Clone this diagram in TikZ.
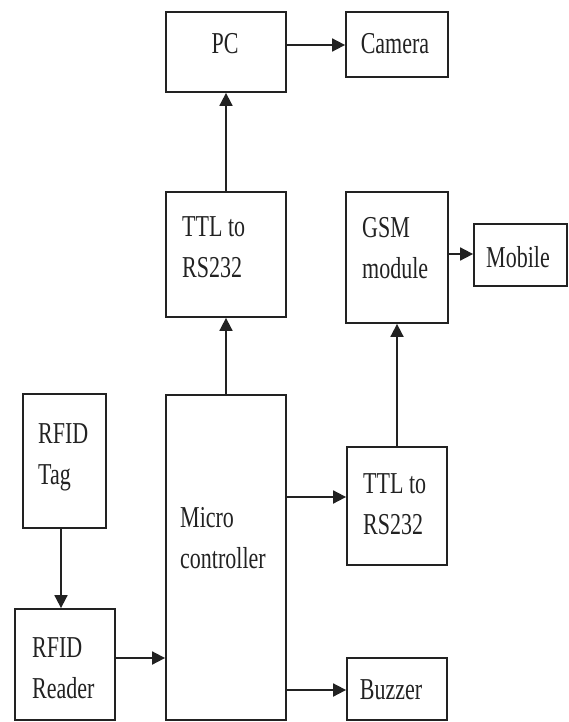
\documentclass[tikz,border=0pt]{standalone}
\usepackage{fontspec}
\setmainfont{Liberation Serif}
\usetikzlibrary{arrows.meta}
\definecolor{ink}{HTML}{222222}
% tall, narrow block lettering
\newcommand\blocktext[1]{\scalebox{1}[1.38]{\begin{tabular}{@{}l@{}}#1\end{tabular}}}

\begin{document}
\begin{tikzpicture}[x=1pt,y=-1pt,
  box/.style={draw=ink, line width=1.8pt, inner sep=0pt, rectangle},
  txt/.style={inner sep=0pt, font=\fontsize{22}{30}\selectfont, text=ink},
  arr/.style={draw=ink, line width=1.8pt, -{Triangle[length=13pt,width=13pt]}}]
\useasboundingbox (0,0) rectangle (569,722);

% blocks
\node[box, minimum width=120pt, minimum height=80pt]  (pc)     at (226,52)    {};
\node[box, minimum width=102pt, minimum height=65pt]  (camera) at (397,44.5)  {};
\node[box, minimum width=120pt, minimum height=125pt] (ttl1)   at (226,254.5) {};
\node[box, minimum width=102pt, minimum height=131pt] (gsm)    at (397,257.5) {};
\node[box, minimum width=93pt,  minimum height=62pt]  (mobile) at (520.5,255) {};
\node[box, minimum width=83pt,  minimum height=134pt] (tag)    at (64.5,461)  {};
\node[box, minimum width=120pt, minimum height=325pt] (micro)  at (226,557.5) {};
\node[box, minimum width=100pt, minimum height=118pt] (ttl2)   at (397,506)   {};
\node[box, minimum width=100pt, minimum height=111pt] (reader) at (65,664.5)  {};
\node[box, minimum width=100pt, minimum height=62pt]  (buzzer) at (397,689)   {};

% block captions
\node[txt] (pct)     at (225,45)  {\blocktext{PC}};
\node[txt] (camerat) at (395,45)  {\blocktext{Camera}};
\node[txt] (mobilet) at (518,259) {\blocktext{Mobile}};
\node[txt] (buzzert) at (391,691) {\blocktext{Buzzer}};
\node[txt, anchor=west] (ttl1t)   at (182,249) {\blocktext{TTL to\\RS232}};
\node[txt, anchor=west] (gsmt)    at (362,250) {\blocktext{GSM\\module}};
\node[txt, anchor=west] (ttl2t)   at (363,506) {\blocktext{TTL to\\RS232}};
\node[txt, anchor=west] (tagt)    at (38,456)  {\blocktext{RFID\\Tag}};
\node[txt, anchor=west] (microt)  at (180,540) {\blocktext{Micro\\controller}};
\node[txt, anchor=west] (readert) at (32,670)  {\blocktext{RFID\\Reader}};

% signal flow
\draw[arr] (ttl1.north) -- (pc.south);
\draw[arr] (pc.east |- 0,45) -- (camera.west |- 0,45);
\draw[arr] (micro.north) -- (ttl1.south);
\draw[arr] (gsm.east |- 0,254) -- (mobile.west |- 0,254);
\draw[arr] (ttl2.north) -- (gsm.south);
\draw[arr] (micro.east |- 0,497) -- (ttl2.west |- 0,497);
\draw[arr] (micro.east |- 0,690) -- (buzzer.west |- 0,690);
\draw[arr] (tag.south -| 61,0) -- (reader.north -| 61,0);
\draw[arr] (reader.east |- 0,658) -- (micro.west |- 0,658);
\end{tikzpicture}
\end{document}
